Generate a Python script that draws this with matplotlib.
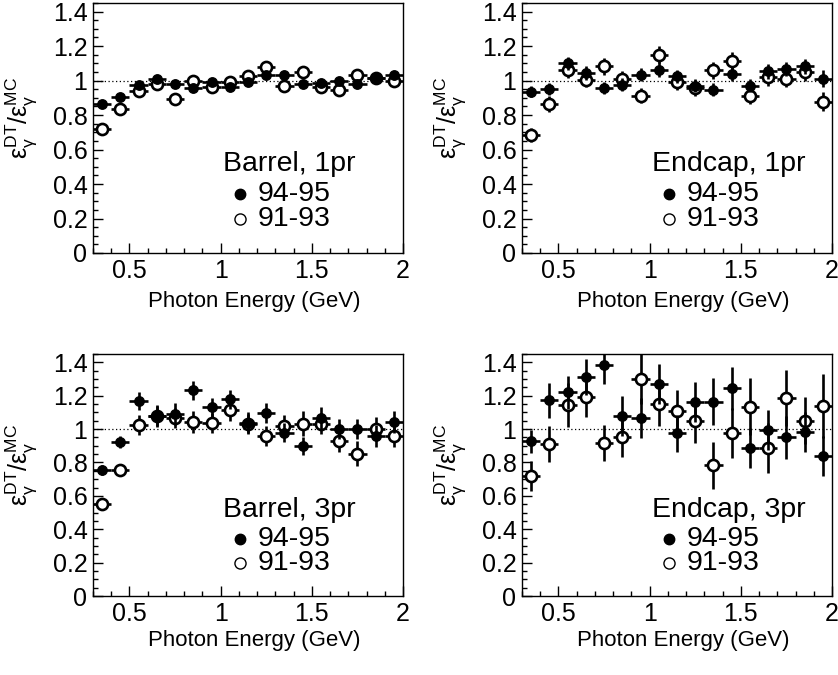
import numpy as np
import matplotlib
matplotlib.use("Agg")
import matplotlib.pyplot as plt
from matplotlib.ticker import MultipleLocator, FixedLocator, FuncFormatter

plt.rcParams['font.family'] = ['Liberation Sans', 'DejaVu Sans']
plt.rcParams['mathtext.fontset'] = 'custom'
plt.rcParams['mathtext.rm'] = 'Liberation Sans'
plt.rcParams['mathtext.it'] = 'Liberation Sans:italic'

# ---- data ----
energy = [0.35, 0.45, 0.55, 0.65, 0.75, 0.85, 0.95, 1.05, 1.15,
          1.25, 1.35, 1.45, 1.55, 1.65, 1.75, 1.85, 1.95]
bin_half_width = 0.05

panel_titles = ["Barrel, 1pr", "Endcap, 1pr", "Barrel, 3pr", "Endcap, 3pr"]
series_labels = ["94-95", "91-93"]

# Barrel, 1pr
b1_new = [0.867, 0.906, 0.973, 1.010, 0.981, 0.956, 0.990, 0.962, 0.990,
          1.035, 1.030, 0.980, 0.987, 1.000, 0.980, 1.015, 1.035]
b1_new_err = [0.010] * 17
b1_old = [0.717, 0.833, 0.938, 0.980, 0.894, 1.000, 0.962, 0.990, 1.025,
          1.077, 0.967, 1.048, 0.962, 0.948, 1.035, 1.015, 1.000]
b1_old_err = [0.015] * 17

# Endcap, 1pr
e1_new = [0.935, 0.952, 1.100, 1.044, 0.958, 0.977, 1.035, 1.063, 1.025,
          0.971, 0.948, 1.040, 0.971, 1.054, 1.067, 1.083, 1.012]
e1_new_err = [0.033, 0.035, 0.038, 0.038, 0.035, 0.038, 0.038, 0.042, 0.038,
              0.038, 0.040, 0.045, 0.040, 0.042, 0.040, 0.042, 0.048]
e1_old = [0.685, 0.865, 1.060, 1.006, 1.083, 1.012, 0.913, 1.150, 0.990,
          0.958, 1.060, 1.115, 0.910, 1.020, 1.010, 1.048, 0.877]
e1_old_err = [0.040, 0.045, 0.045, 0.045, 0.048, 0.045, 0.045, 0.050, 0.045,
              0.045, 0.050, 0.052, 0.048, 0.050, 0.050, 0.052, 0.055]

# Barrel, 3pr
b3_new = [0.757, 0.923, 1.168, 1.077, 1.089, 1.232, 1.130, 1.178, 1.039,
          1.097, 0.979, 0.898, 1.068, 1.000, 1.000, 0.960, 1.043]
b3_new_err = [0.030, 0.035, 0.055, 0.065, 0.065, 0.055, 0.057, 0.055, 0.065,
              0.058, 0.058, 0.055, 0.065, 0.060, 0.060, 0.065, 0.065]
b3_old = [0.550, 0.757, 1.027, 1.077, 1.068, 1.043, 1.037, 1.116, 1.033,
          0.956, 1.019, 1.033, 1.033, 0.930, 0.853, 1.000, 0.961]
b3_old_err = [0.020, 0.035, 0.060, 0.060, 0.060, 0.065, 0.060, 0.065, 0.060,
              0.060, 0.065, 0.075, 0.065, 0.070, 0.075, 0.070, 0.070]

# Endcap, 3pr
e3_new = [0.927, 1.174, 1.220, 1.313, 1.386, 1.081, 1.068, 1.270, 0.975,
          1.164, 1.164, 1.245, 0.888, 0.994, 0.950, 0.980, 0.840]
e3_new_err = [0.070, 0.105, 0.100, 0.107, 0.115, 0.120, 0.120, 0.120, 0.110,
              0.120, 0.140, 0.130, 0.120, 0.120, 0.130, 0.120, 0.120]
e3_old = [0.720, 0.911, 1.145, 1.190, 0.917, 0.952, 1.300, 1.149, 1.110,
          1.048, 0.782, 0.975, 1.135, 0.888, 1.187, 1.050, 1.139]
e3_old_err = [0.090, 0.110, 0.130, 0.120, 0.110, 0.120, 0.150, 0.130, 0.125,
              0.130, 0.140, 0.150, 0.170, 0.150, 0.170, 0.140, 0.190]

panels = [
    (b1_new, b1_new_err, b1_old, b1_old_err),
    (e1_new, e1_new_err, e1_old, e1_old_err),
    (b3_new, b3_new_err, b3_old, b3_old_err),
    (e3_new, e3_new_err, e3_old, e3_old_err),
]

x_ticks = [0.5, 1.0, 1.5, 2.0]
y_ticks = [0, 0.2, 0.4, 0.6, 0.8, 1.0, 1.2, 1.4]

W, H = 838, 675
fig = plt.figure(figsize=(W / 100, H / 100), dpi=100)

# axes boxes in pixels: left, top, right, bottom
boxes = [(93, 3, 403, 253), (522, 3, 832, 253),
         (93, 354, 403, 596), (522, 354, 832, 596)]

def fmt(v, pos):
    s = ('%.1f' % v)
    if s.endswith('.0'):
        s = s[:-2]
    return s

for i, (box, data) in enumerate(zip(boxes, panels)):
    l, t, r, b = box
    ax = fig.add_axes([l / W, 1 - b / H, (r - l) / W, (b - t) / H])
    new, new_err, old, old_err = data
    ax.axhline(1.0, color='black', lw=0.9, ls=(0, (1, 2)), zorder=1)
    ax.errorbar(energy, old, yerr=old_err, xerr=bin_half_width, fmt='o',
                mfc='white', mec='black', mew=1.9, ms=8, color='black',
                elinewidth=1.9, capsize=0, zorder=3)
    ax.errorbar(energy, new, yerr=new_err, xerr=bin_half_width, fmt='o',
                mfc='black', mec='black', ms=6.8, color='black',
                elinewidth=1.9, capsize=0, zorder=4)
    ax.set_xlim(0.3, 2.0)
    ax.set_ylim(0, 1.45)
    ax.xaxis.set_major_locator(FixedLocator(x_ticks))
    ax.xaxis.set_minor_locator(MultipleLocator(0.1))
    ax.yaxis.set_major_locator(FixedLocator(y_ticks))
    ax.yaxis.set_minor_locator(MultipleLocator(0.05))
    ax.xaxis.set_major_formatter(FuncFormatter(fmt))
    ax.yaxis.set_major_formatter(FuncFormatter(fmt))
    ax.tick_params(which='both', direction='in', top=False, right=False,
                   width=1.0, labelsize=18)
    ax.tick_params(which='major', length=7)
    ax.tick_params(which='minor', length=3.5)
    ax.tick_params(axis='x', which='major', pad=4)
    ax.tick_params(axis='y', which='major', pad=4)
    for s in ax.spines.values():
        s.set_linewidth(1.0)
    ax.set_xlabel('Photon Energy (GeV)', fontsize=16)
    ax.set_ylabel(r'$\mathrm{ε}_{\mathrm{γ}}^{\mathrm{DT}}/\mathrm{ε}_{\mathrm{γ}}^{\mathrm{MC}}$',
                  fontsize=18)
    h = b - t
    ax.yaxis.set_label_coords(-0.175, 0.54)
    ax.xaxis.set_label_coords(0.52, -34 / h if i >= 2 else -38 / h)

    # legend block
    ty = [0.355, 0.235, 0.135]
    ax.text(0.42, ty[0], panel_titles[i], transform=ax.transAxes,
            fontsize=20.5, va='center', ha='left')
    ax.plot([0.474], [ty[1]], transform=ax.transAxes, marker='o',
            mfc='black', mec='black', ms=7.5, ls='none', clip_on=False)
    ax.plot([0.474], [ty[2]], transform=ax.transAxes, marker='o',
            mfc='white', mec='black', mew=1.0, ms=8, ls='none', clip_on=False)
    ax.text(0.53, ty[1], series_labels[0], transform=ax.transAxes,
            fontsize=20.5, va='center', ha='left')
    ax.text(0.53, ty[2], series_labels[1], transform=ax.transAxes,
            fontsize=20.5, va='center', ha='left')

fig.savefig('out.png', dpi=100)
